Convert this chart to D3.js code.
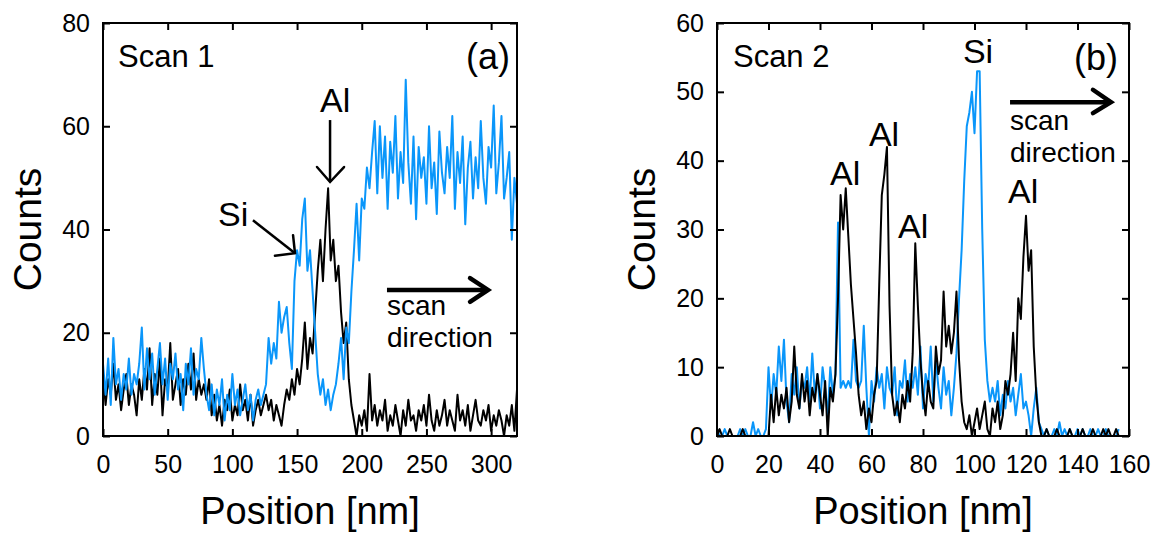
<!DOCTYPE html>
<html>
<head>
<meta charset="utf-8">
<script src="https://cdn.jsdelivr.net/npm/d3@7"></script>
<style>
  html, body { margin: 0; padding: 0; background: #fff; }
  svg text { font-family: "Liberation Sans", Arial, sans-serif; fill: #000; }
</style>
</head>
<body>
<div id="chart"></div>
<script>
// ---- Scan 1 (panel a), 2 nm step from 0 to 320 nm ----
const scan1Step = 2;
const scan1Si = [
  14, 8, 15, 6, 19, 10, 13, 7, 12, 9, 15, 8, 12, 10, 14, 21, 9, 17, 11, 16,
  8, 13, 18, 10, 15, 7, 14, 11, 16, 9, 12, 5, 14, 10, 17, 8, 13, 11, 19, 13,
  8, 5, 10, 4, 9, 6, 11, 3, 8, 5, 12, 6, 9, 4, 7, 10, 5, 8, 3, 7, 9, 6, 8, 10,
  19, 14, 18, 15, 26, 20, 23, 25, 18, 13, 30, 36, 33, 42, 46, 32, 36, 28,
  20, 12, 8, 11, 6, 9, 5, 8, 10,
  14, 19, 11, 21, 18, 28, 36, 45, 34, 46, 44, 52, 48,
  55, 61, 47, 60, 50, 58, 44, 57, 51, 62, 46, 55, 49, 69, 53, 45, 58, 42, 56, 50,
  54, 45, 60, 48, 53, 43, 59, 51, 47, 56, 50, 62, 44, 55, 49, 58, 41, 52, 57, 46,
  54, 48, 61, 50, 45, 56, 52, 64, 47, 53, 62, 46, 50, 55, 38, 50, 45
];
const scan1Al = [
  12, 6, 11, 8, 14, 7, 10, 5, 9, 12, 6, 10, 8, 4, 11, 7, 13, 9, 17, 6,
  12, 8, 15, 4, 11, 9, 18, 7, 10, 13, 6, 11, 8, 14, 9, 16, 7, 11, 8, 10,
  7, 11, 4, 8, 3, 6, 2, 7, 5, 9, 3, 6, 4, 10, 5, 7, 3, 8, 2, 5, 7, 4, 6, 8, 5, 7, 3, 6, 4, 2,
  6, 9, 7, 11, 8, 13, 10, 15, 22, 13, 19, 16, 24,
  32, 38, 30, 40, 48, 34, 38, 30, 33,
  24, 18, 22, 11, 6, 3,
  0, 4, 2, 5, 1, 12, 3, 6, 2, 5, 3, 7, 1, 4, 2, 6, 3, 0, 5, 2, 7, 3, 4, 1, 5, 3,
  6, 2, 8, 3, 1, 5, 2, 4, 7, 2, 5, 3, 1, 8, 3, 5, 2, 6, 1, 4, 7, 3, 2, 5, 3, 6,
  1, 4, 2, 5, 3, 0, 4, 2, 6, 1, 9
];

// ---- Scan 2 (panel b), 1 nm step from 0 to 156 nm ----
const scan2Step = 1;
const scan2Si = [
  1, 0, 0, 1, 0, 0, 0, 0, 0, 1, 0, 1, 0, 0, 2, 0, 1, 0, 0, 1,
  10, 4, 9, 6, 13, 8, 14, 5, 2, 9, 6, 10, 4, 8, 7, 10, 5, 12, 6, 9, 4, 10, 7, 3, 10, 6, 9,
  31, 7, 8, 7, 8, 7, 14, 8, 7, 8, 16, 7, 0,
  8, 5, 10, 7, 9, 4, 10, 7, 6, 10, 3, 8, 7, 11, 5, 9, 7, 10, 6, 13,
  4, 9, 7, 13, 5, 11, 7, 4, 10, 6, 8, 3, 7, 12, 20, 27, 37, 45, 47, 50,
  44, 53, 53, 30, 14, 8, 5, 7, 5, 8, 3, 6, 4, 8, 5, 7, 3, 6, 9, 4,
  5, 3, 0, 4, 7, 2, 1, 0, 1, 0, 0, 1, 0, 2, 0, 1, 0, 1, 0, 0,
  1, 0, 1, 0, 0, 1, 0, 0, 1, 0, 0, 1, 0, 0, 0, 0, 1
];
const scan2Al = [
  0, 1, 0, 0, 0, 1, 0, 0, 0, 0, 1, 0, 0, 0, 0, 0, 0, 0, 0, 0, 0,
  6, 2, 7, 3, 6, 4, 7, 2, 5, 13, 6, 4, 9, 5, 8, 3, 7, 5, 9, 6, 3, 8, 0, 7, 5, 9,
  20, 35, 30, 36, 29, 22, 17, 12, 6, 3, 5, 1, 4, 2, 6, 8, 22, 35, 38, 42, 19,
  6, 3, 5, 2, 6, 4, 8, 5, 12, 28, 19, 11, 6, 3, 8, 5, 4, 13, 9, 11, 21, 13, 16,
  12, 15, 21, 11, 5, 2, 1, 3, 0, 2, 4, 1, 3, 5, 1, 0, 4, 2, 5, 1, 3, 8, 6, 9,
  15, 8, 20, 17, 26, 32, 24, 27, 13, 6, 2, 0, 0, 1, 0, 0, 0, 1, 0, 0, 0, 0, 1,
  0, 0, 0, 0, 1, 0, 0, 0, 1, 0, 0, 0, 1, 0, 1, 0, 0, 1, 0
];

// ---- axes ----
const scan1XTicks = [0, 50, 100, 150, 200, 250, 300];
const scan1YTicks = [0, 20, 40, 60, 80];
const scan2XTicks = [0, 20, 40, 60, 80, 100, 120, 140, 160];
const scan2YTicks = [0, 10, 20, 30, 40, 50, 60];

// ---- annotations (data coordinates) ----
const scan1Labels = [
  { text: "Scan 1", x: 11.6, y: 71.5, size: 31, anchor: "start" },
  { text: "(a)", x: 314.6, y: 71.0, size: 36, anchor: "end" },
  { text: "Al", x: 167.7, y: 62.8, size: 34, anchor: "start" },
  { text: "Si", x: 88.9, y: 40.7, size: 34, anchor: "start" },
  { text: "scan", x: 219.5, y: 23.4, size: 28, anchor: "start" },
  { text: "direction", x: 219.5, y: 17.2, size: 28, anchor: "start" }
];
const scan1Arrows = [
  { from: [175.5, 61.2], to: [175.5, 49.2], arms: [[165.4, 52.1], [186.3, 52.1]], width: 2.5 },
  { from: [115.9, 41.8], to: [148.4, 35.4], arms: [[132.9, 34.9], [146.9, 38.9]], width: 2.5 },
  { from: [219.5, 28.3], to: [297.6, 28.3], arms: [[283.7, 30.6], [283.7, 26.0]], width: 4.5 }
];
const scan2Labels = [
  { text: "Scan 2", x: 6.2, y: 53.6, size: 31, anchor: "start" },
  { text: "(b)", x: 155.7, y: 53.2, size: 36, anchor: "end" },
  { text: "Si", x: 95.5, y: 54.2, size: 34, anchor: "start" },
  { text: "Al", x: 43.9, y: 36.5, size: 34, anchor: "start" },
  { text: "Al", x: 59.0, y: 42.1, size: 34, anchor: "start" },
  { text: "Al", x: 70.3, y: 28.8, size: 34, anchor: "start" },
  { text: "Al", x: 113.0, y: 33.9, size: 34, anchor: "start" },
  { text: "scan", x: 113.8, y: 44.5, size: 28, anchor: "start" },
  { text: "direction", x: 113.8, y: 39.8, size: 28, anchor: "start" }
];
const scan2Arrows = [
  { from: [113.8, 48.5], to: [153.0, 48.5], arms: [[146.0, 50.3], [146.0, 46.9]], width: 4.5 }
];

const SI_BLUE = "#0a96fa";
const width = 1157, height = 533;

const svg = d3.select("#chart").append("svg")
  .attr("width", width)
  .attr("height", height)
  .attr("viewBox", [0, 0, width, height]);

function toPoints(values, step) {
  return values.map((v, i) => ({ pos: i * step, count: v }));
}

function drawPanel(opts) {
  const { box, xMax, yMax, xTicks, yTicks, series, labels, arrows } = opts;

  const x = d3.scaleLinear().domain([0, xMax]).range([box.left, box.right]);
  const y = d3.scaleLinear().domain([0, yMax]).range([box.bottom, box.top]);
  const g = svg.append("g");

  // data lines
  const line = d3.line().x(d => x(d.pos)).y(d => y(d.count));
  series.forEach(s => {
    g.append("path")
      .datum(toPoints(s.values, s.step))
      .attr("fill", "none")
      .attr("stroke", s.color)
      .attr("stroke-width", 2)
      .attr("stroke-linejoin", "round")
      .attr("d", line);
  });

  // axes, ticks pointing inward on all four sides
  const bottom = g.append("g")
    .attr("transform", `translate(0,${box.bottom})`)
    .call(d3.axisBottom(x).tickValues(xTicks).tickSizeInner(-7).tickSizeOuter(0).tickPadding(19));
  const left = g.append("g")
    .attr("transform", `translate(${box.left},0)`)
    .call(d3.axisLeft(y).tickValues(yTicks).tickSizeInner(-7).tickSizeOuter(0).tickPadding(13));
  const top = g.append("g")
    .attr("transform", `translate(0,${box.top})`)
    .call(d3.axisTop(x).tickValues(xTicks).tickSizeInner(-7).tickSizeOuter(0).tickFormat(""));
  const right = g.append("g")
    .attr("transform", `translate(${box.right},0)`)
    .call(d3.axisRight(y).tickValues(yTicks).tickSizeInner(-7).tickSizeOuter(0).tickFormat(""));

  [bottom, left, top, right].forEach(a => {
    a.select(".domain").remove();
    a.selectAll(".tick line").attr("stroke", "#000").attr("stroke-width", 2);
    a.selectAll(".tick text")
      .style("font-family", "'Liberation Sans', Arial, sans-serif")
      .style("font-size", "25px")
      .attr("fill", "#000");
  });

  g.append("rect")
    .attr("x", box.left)
    .attr("y", box.top)
    .attr("width", box.right - box.left)
    .attr("height", box.bottom - box.top)
    .attr("fill", "none")
    .attr("stroke", "#000")
    .attr("stroke-width", 2);

  // axis titles
  g.append("text")
    .attr("x", (box.left + box.right) / 2)
    .attr("y", 524)
    .attr("text-anchor", "middle")
    .style("font-size", "38px")
    .text("Position [nm]");

  g.append("text")
    .attr("transform", `translate(${box.left - 62},${(box.top + box.bottom) / 2}) rotate(-90)`)
    .attr("text-anchor", "middle")
    .style("font-size", "39px")
    .text("Counts");

  // annotations
  labels.forEach(l => {
    g.append("text")
      .attr("x", x(l.x))
      .attr("y", y(l.y))
      .attr("text-anchor", l.anchor)
      .style("font-size", `${l.size}px`)
      .text(l.text);
  });

  arrows.forEach(a => {
    g.append("line")
      .attr("x1", x(a.from[0])).attr("y1", y(a.from[1]))
      .attr("x2", x(a.to[0])).attr("y2", y(a.to[1]))
      .attr("stroke", "#000")
      .attr("stroke-width", a.width);
    g.append("path")
      .attr("d", d3.line()([
        [x(a.arms[0][0]), y(a.arms[0][1])],
        [x(a.to[0]), y(a.to[1])],
        [x(a.arms[1][0]), y(a.arms[1][1])]
      ]))
      .attr("fill", "none")
      .attr("stroke", "#000")
      .attr("stroke-width", a.width)
      .attr("stroke-linecap", "round")
      .attr("stroke-linejoin", "miter");
  });
}

drawPanel({
  box: { left: 103, right: 517, top: 23, bottom: 436 },
  xMax: 320, yMax: 80,
  xTicks: scan1XTicks, yTicks: scan1YTicks,
  series: [
    { values: scan1Al, step: scan1Step, color: "#000" },
    { values: scan1Si, step: scan1Step, color: SI_BLUE }
  ],
  labels: scan1Labels,
  arrows: scan1Arrows
});

drawPanel({
  box: { left: 717, right: 1129, top: 23, bottom: 436 },
  xMax: 160, yMax: 60,
  xTicks: scan2XTicks, yTicks: scan2YTicks,
  series: [
    { values: scan2Si, step: scan2Step, color: SI_BLUE },
    { values: scan2Al, step: scan2Step, color: "#000" }
  ],
  labels: scan2Labels,
  arrows: scan2Arrows
});
</script>
</body>
</html>
